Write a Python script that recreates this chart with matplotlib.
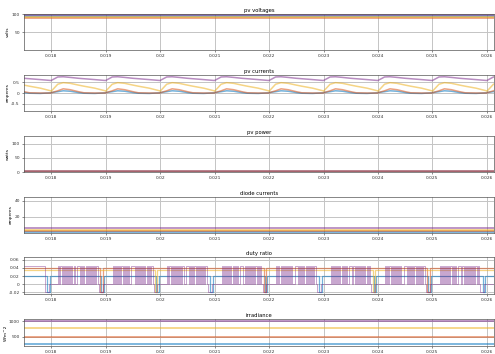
import numpy as np
import matplotlib
matplotlib.use("Agg")
import matplotlib.pyplot as plt

# ---------------- data ----------------
xlim = (0.0175, 0.02613)
xticks = [0.018, 0.019, 0.020, 0.021, 0.022, 0.023, 0.024, 0.025, 0.026]
xticklabels = ["0.018", "0.019", "0.02", "0.021", "0.022", "0.023", "0.024", "0.025", "0.026"]

titles = ["pv voltages", "pv currents", "pv power", "diode currents", "duty ratio", "irradiance"]
ylabels = ["volts", "amperes", "watts", "amperes", "", "W/m^2"]

# colours (blue, red-orange, yellow, purple)
series_colors = ["#0072BD", "#D95319", "#EDB120", "#7E2F8E"]

# pv voltages (constant levels)
pv_voltages = [95, 88, 91, 97]
# pv power (near zero)
pv_power = [0.8, 1.6, 2.4, 3.0]
# diode currents
diode_currents = [1.0, 2.2, 3.6, 5.8]
# irradiance
irradiance = [280, 500, 800, 1000]
# duty ratio steady levels (blue, red, yellow)
duty_levels = [0.021, 0.040, 0.034]

# pv currents: one switching-period shape (offsets from each period start) and period starts
period_starts = [0.0170, 0.0180, 0.0190, 0.0200, 0.0210, 0.0220, 0.0230, 0.0240, 0.0250, 0.0260]
cur_offsets = [0.0, 0.00012, 0.00022, 0.00035, 0.0005, 0.0006, 0.0008, 0.00099]
cur_blue =   [0.02, 0.06, 0.10, 0.08, 0.02, -0.01, -0.02, 0.01]
cur_red =    [0.01, 0.10, 0.19, 0.15, 0.06, 0.01, 0.00, 0.00]
cur_yellow = [0.08, 0.40, 0.47, 0.44, 0.36, 0.31, 0.22, 0.10]
cur_purple = [0.57, 0.73, 0.74, 0.71, 0.67, 0.65, 0.61, 0.57]

# duty ratio purple switching: toggle offsets within a period
duty_toggle_offsets = [0.00013, 0.00015, 0.00017, 0.00019, 0.00021, 0.00023, 0.00025, 0.00027,
                       0.00029, 0.00031, 0.00033, 0.00035, 0.00037, 0.00039, 0.00041, 0.00043,
                       0.00047,
                       0.00053, 0.00055, 0.00057, 0.00059, 0.00061, 0.00063, 0.00065, 0.00067,
                       0.00069, 0.00071, 0.00073, 0.00075, 0.00077, 0.00079, 0.00081, 0.00083,
                       0.00086]
duty_high = 0.046
duty_low = 0.0
duty_dip = -0.02
duty_dip_window = (0.00088, 0.00095)   # purple dip near end of each period
blue_dip_window = (0.00092, 0.00097)   # blue dip

# ---------------- figure ----------------
W, H = 495, 354
fig = plt.figure(figsize=(W / 100, H / 100), dpi=100)
plt.rcParams["font.family"] = ["DejaVu Sans"]

boxes = [(14, 50), (75, 111), (136, 172), (197, 233), (257, 294), (319, 346)]
ylims = [(0, 100), (-0.82, 0.82), (0, 128), (0, 45), (-0.024, 0.067), (200, 1080)]
yticks = [[50, 100], [-0.5, 0, 0.5], [0, 50, 100], [20, 40], [-0.02, 0, 0.02, 0.04, 0.06], [500, 1000]]
yticklabels = [["50", "100"], ["-0.5", "0", "0.5"], ["0", "50", "100"], ["20", "40"],
               ["-0.02", "0", "0.02", "0.04", "0.06"], ["500", "1000"]]

left_px, right_px = 24, 494
axes = []
for i, (t, b) in enumerate(boxes):
    ax = fig.add_axes([left_px / W, 1 - b / H, (right_px - left_px) / W, (b - t) / H])
    ax.set_xlim(*xlim)
    ax.set_ylim(*ylims[i])
    ax.set_xticks(xticks)
    ax.set_xticklabels(xticklabels)
    ax.set_yticks(yticks[i])
    ax.set_yticklabels(yticklabels[i])
    ax.tick_params(labelsize=3.2, length=1.5, width=0.4, pad=1.5, colors="#333333")
    ax.grid(True, color="#c4c4c4", linewidth=0.7)
    for s in ax.spines.values():
        s.set_linewidth(0.5)
        s.set_color("#555555")
    ax.set_title(titles[i], fontsize=3.8, pad=1.5)
    ax.set_ylabel(ylabels[i], fontsize=3.2, labelpad=1)
    ax.set_axisbelow(True)
    axes.append(ax)

lw = 1.3
alpha = 0.55

for v, c in zip(pv_voltages, series_colors):
    axes[0].axhline(v, color=c, lw=lw, alpha=alpha)

for vals, c in zip([cur_blue, cur_red, cur_yellow, cur_purple], series_colors):
    tt, vv = [], []
    for p in period_starts:
        tt += [p + o for o in cur_offsets]
        vv += vals
    axes[1].plot(tt, vv, color=c, lw=1.1, alpha=alpha)

for v, c in zip(pv_power, series_colors):
    axes[2].axhline(v, color=c, lw=lw, alpha=alpha)

for v, c in zip(diode_currents, series_colors):
    axes[3].axhline(v, color=c, lw=lw, alpha=alpha)

for k, (lev, c) in enumerate(zip(duty_levels, series_colors[:3])):
    tt, vv = [xlim[0]], [lev]
    for j, p in enumerate(period_starts):
        if k == 0 or (k == 1 and j % 3 == 1) or (k == 2 and j % 4 == 2):
            off = blue_dip_window if k == 0 else (duty_dip_window[0] + 0.00002, duty_dip_window[1])
            tt += [p + off[0], p + off[0], p + off[1], p + off[1]]
            vv += [lev, duty_dip, duty_dip, lev]
    tt.append(xlim[1]); vv.append(lev)
    axes[4].plot(tt, vv, color=c, lw=0.9, alpha=alpha)

tt, vv = [xlim[0]], [duty_high]
for p in period_starts:
    tt += [p + duty_dip_window[0], p + duty_dip_window[0], p + duty_dip_window[1], p + duty_dip_window[1]]
    vv += [vv[-1], duty_dip, duty_dip, duty_low]
    nxt = p + 0.001
    lvl = duty_low
    for o in duty_toggle_offsets:
        new = duty_high if lvl == duty_low else duty_low
        tt += [nxt + o, nxt + o]
        vv += [lvl, new]
        lvl = new
tt.append(xlim[1] + 0.001); vv.append(vv[-1])
axes[4].plot(tt, vv, color=series_colors[3], lw=0.6, alpha=0.5)

for v, c in zip(irradiance, series_colors):
    axes[5].axhline(v, color=c, lw=lw, alpha=alpha)

fig.savefig("out.png", dpi=100)
